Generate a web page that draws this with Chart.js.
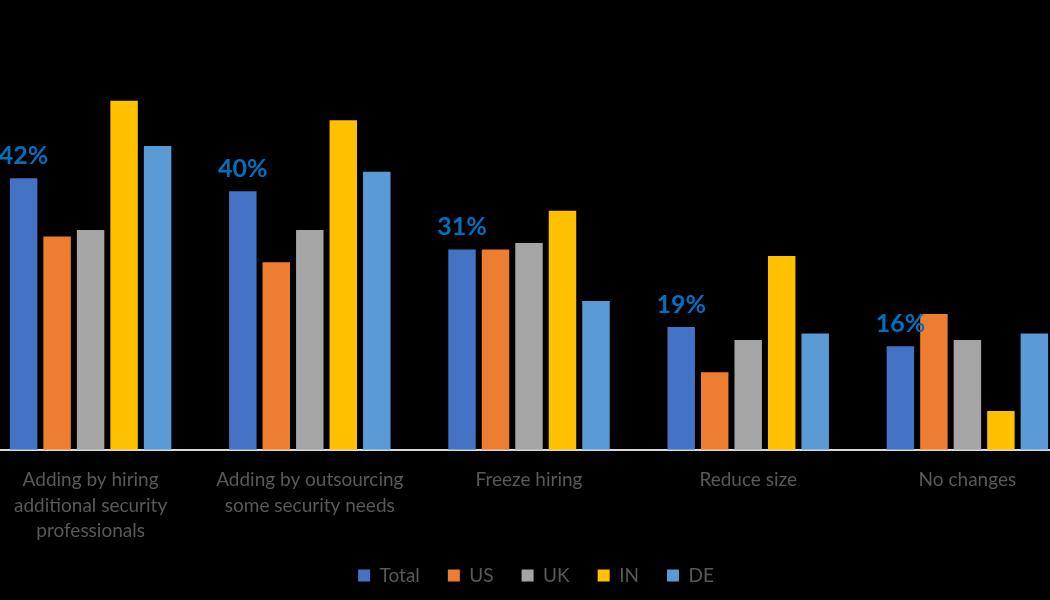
<!DOCTYPE html>
<html><head>
<meta charset="utf-8">
<title>Security staffing plans</title>
<script src="https://cdn.jsdelivr.net/npm/chart.js@4"></script>
<style>
html, body { margin: 0; padding: 0; background: #000; }
#wrap { position: relative; width: 1050px; height: 600px; overflow: hidden; background: #000; }
/* plot area is wider than the page: first and last groups are clipped like the original */
#chart { position: absolute; left: -19px; top: 0; }
</style></head><body>
<div id="wrap"><canvas id="chart" width="1096" height="600"></canvas></div>
<script>
const CATEGORIES = [
  ['Adding by hiring', 'additional security', 'professionals'],
  ['Adding by outsourcing', 'some security needs'],
  'Freeze hiring',
  'Reduce size',
  'No changes',
];
const SERIES_NAMES = ['Total', 'US', 'UK', 'IN', 'DE'];
const TOTAL = [42, 40, 31, 19, 16];
const US = [33, 29, 31, 12, 21];
const UK = [34, 34, 32, 17, 17];
const IN = [54, 51, 37, 30, 6];
const DE = [47, 43, 23, 18, 18];

const COLORS = ['#4472C4', '#ED7D31', '#A5A5A5', '#FFC000', '#5B9BD5'];
const TEXT_GREY = '#595959';

// percent labels above the Total bars only
const totalLabels = {
  id: 'totalLabels',
  afterDatasetsDraw(chart) {
    const ctx = chart.ctx;
    const meta = chart.getDatasetMeta(0);
    ctx.save();
    ctx.font = 'bold 25px Lato';
    ctx.fillStyle = '#0070C0';
    ctx.textAlign = 'center';
    ctx.textBaseline = 'alphabetic';
    meta.data.forEach((bar, i) => {
      ctx.fillText(TOTAL[i] + '%', bar.x, bar.y - 14);
    });
    ctx.restore();
  }
};

// the legend sits closer to the axis labels than Chart.js would put it
const LEGEND_SHIFT_Y = -23;
const LEGEND_SHIFT_X = 7;
const legendNudge = {
  id: 'legendNudge',
  afterLayout(chart) {
    const lg = chart.legend;
    if (!lg) return;
    lg.top += LEGEND_SHIFT_Y; lg.bottom += LEGEND_SHIFT_Y;
    lg.left += LEGEND_SHIFT_X; lg.right += LEGEND_SHIFT_X;
  }
};

const seriesData = [TOTAL, US, UK, IN, DE];
const datasets = SERIES_NAMES.map((name, i) => ({
  label: name,
  data: seriesData[i],
  backgroundColor: COLORS[i],
  borderWidth: 0,
  categoryPercentage: 0.764,
  barPercentage: 0.82,
}));

new Chart(document.getElementById('chart'), {
  type: 'bar',
  data: { labels: CATEGORIES, datasets },
  plugins: [totalLabels, legendNudge],
  options: {
    responsive: false,
    animation: false,
    layout: { padding: { top: 62, left: 0, right: 0, bottom: -18 } },
    plugins: {
      tooltip: { enabled: false },
      legend: {
        position: 'bottom',
        labels: {
          boxWidth: 12, boxHeight: 12, padding: 28,
          color: TEXT_GREY,
          font: { family: 'Lato', size: 19 },
        }
      }
    },
    scales: {
      x: {
        grid: { display: false, drawTicks: false },
        border: { display: true, color: '#D9D9D9', width: 2 },
        ticks: {
          color: TEXT_GREY,
          padding: 18,
          maxRotation: 0,
          autoSkip: false,
          font: { family: 'Lato', size: 19, lineHeight: 1.32 },
        }
      },
      y: { display: false, min: 0, max: 60 }
    }
  }
});
</script></body></html>
